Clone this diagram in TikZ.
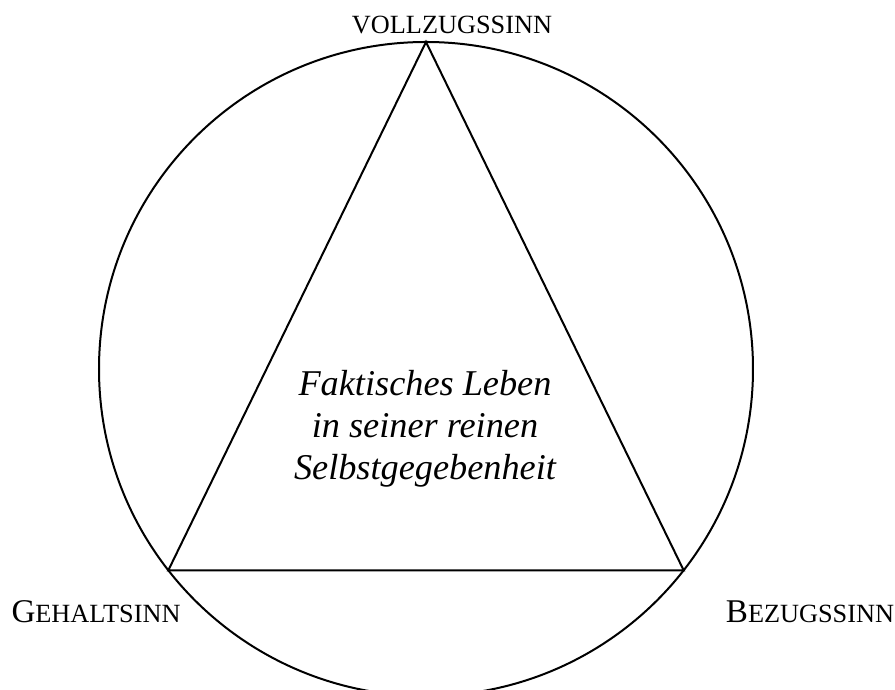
\documentclass[tikz,border=0pt]{standalone}
\usepackage{fontspec}
\setmainfont{Liberation Serif}
\usepackage{tikz}
\newcommand{\fakesc}[2]{#1{\fontsize{9.2}{10}\selectfont #2}}
\newcommand{\drawline}{\draw[line width=0.7pt]}
\tikzset{
  sinnlabel/.style={inner sep=0pt, font=\fontsize{11.6}{13}\selectfont},
  lebentext/.style={align=center, inner sep=0pt, font=\fontsize{12.7}{14.6}\selectfont\itshape}
}

\begin{document}
\begin{tikzpicture}[x=0.35pt,y=0.35pt]
\useasboundingbox (0,0) rectangle (895,690);
\coordinate (mitte) at (426,321);
\drawline (mitte) circle [radius=327];
\path (mitte) ++(90:327) coordinate (oben)
      (mitte) ++(218:327) coordinate (links)
      (mitte) ++(-38:327) coordinate (rechts);
\drawline (oben)--(links)--(rechts)--cycle;
\node[sinnlabel, font=\fontsize{9.2}{10}\selectfont] (vollzug) at (452,665) {VOLLZUGSSINN};
\node[sinnlabel] (gehalt) at (96,78) {\fakesc{G}{EHALTSINN}};
\node[sinnlabel] (bezug) at (810,78) {\fakesc{B}{EZUGSSINN}};
\node[lebentext] (leben) at (425,261) {Faktisches Leben\\in seiner reinen\\Selbstgegebenheit};
\end{tikzpicture}
\end{document}
